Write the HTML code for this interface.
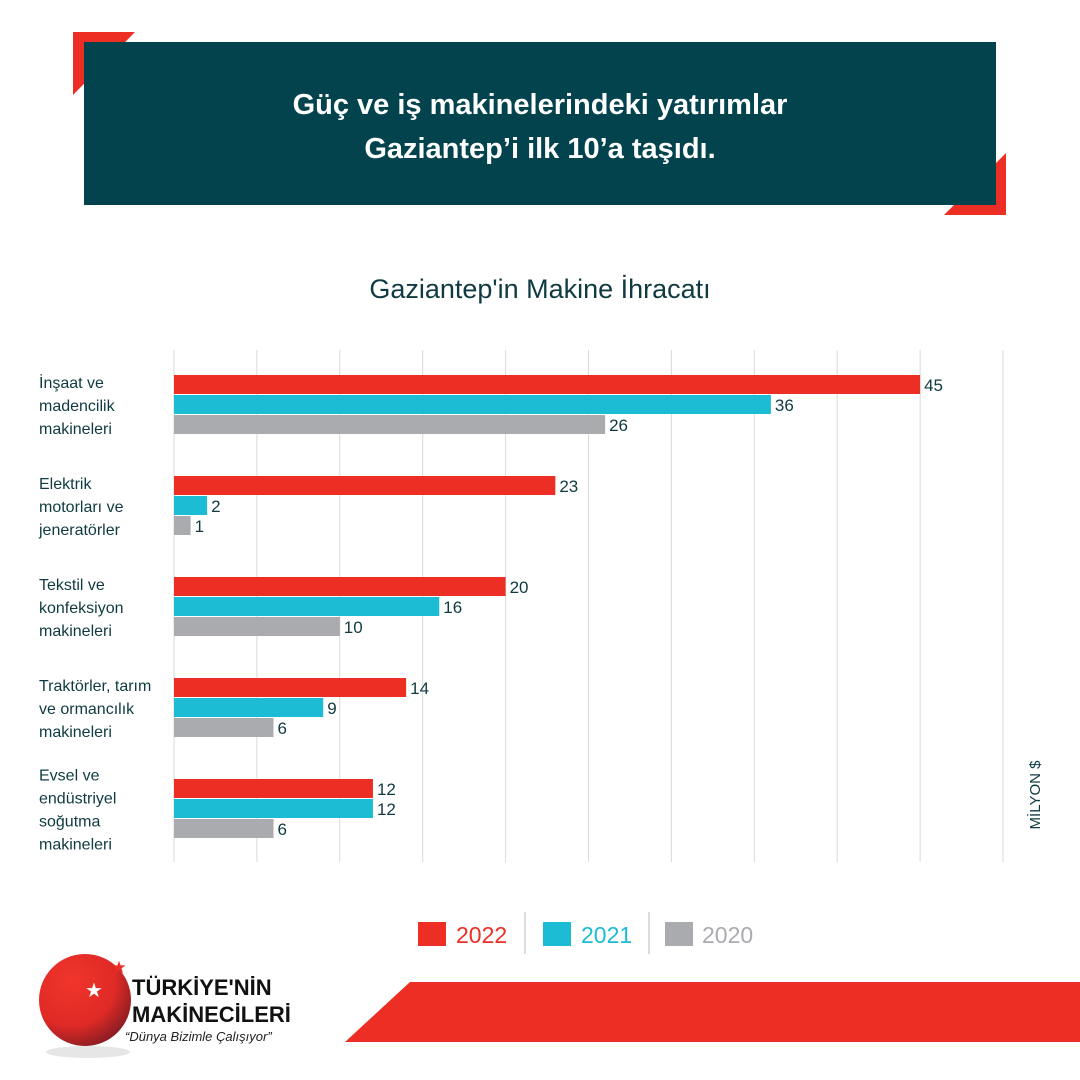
<!DOCTYPE html>
<html><head><meta charset="utf-8"><style>
body{margin:0;width:1080px;height:1080px;background:#fff;overflow:hidden;font-family:"Liberation Sans",sans-serif;}
svg{display:block}
</style></head><body>
<svg id="chart" width="1080" height="1080" viewBox="0 0 1080 1080">
<polygon points="73,32 135,32 73,95" fill="#ec2e24"/>
<polygon points="1006,153 1006,215 944,215" fill="#ec2e24"/>
<rect x="84" y="42" width="912" height="163" fill="#02434e"/>
<text x="540" y="114" text-anchor="middle" fill="#fff" font-size="29" font-weight="bold">Güç ve iş makinelerindeki yatırımlar</text>
<text x="540" y="158" text-anchor="middle" fill="#fff" font-size="29" font-weight="bold">Gaziantep’i ilk 10’a taşıdı.</text>
<text x="540" y="298" text-anchor="middle" fill="#0f3a42" font-size="27">Gaziantep'in Makine İhracatı</text>
<g id="grid"></g><g id="bars"></g><g id="labels"></g>
<text transform="translate(1040,795) rotate(-90)" text-anchor="middle" fill="#0f3a42" font-size="15">MİLYON $</text>
<g>
<rect x="418" y="922" width="28" height="24" fill="#ec2e24"/>
<text x="456" y="943" fill="#ec2e24" font-size="23">2022</text>
<line x1="525" y1="912" x2="525" y2="954" stroke="#bbb"/>
<rect x="543" y="922" width="28" height="24" fill="#1bbcd4"/>
<text x="581" y="943" fill="#1bbcd4" font-size="23">2021</text>
<line x1="649" y1="912" x2="649" y2="954" stroke="#bbb"/>
<rect x="665" y="922" width="28" height="24" fill="#a9abae"/>
<text x="702" y="943" fill="#a9abae" font-size="23">2020</text>
</g>
<polygon points="345,1042 410,982 1080,982 1080,1042" fill="#ec2e24"/>
<g>
<defs><radialGradient id="rg" cx="0.35" cy="0.3" r="0.8"><stop offset="0" stop-color="#f0352b"/><stop offset="0.6" stop-color="#e02a26"/><stop offset="1" stop-color="#7a1a22"/></radialGradient></defs>
<ellipse cx="88" cy="1052" rx="42" ry="6" fill="#e6e6e6"/>
<circle cx="85" cy="1000" r="46" fill="url(#rg)"/>
<text x="94" y="997" text-anchor="middle" fill="#fff" font-size="20">★</text>
<text x="119" y="973" text-anchor="middle" fill="#ec2e24" font-size="17">★</text>
<text x="132" y="995" fill="#111" font-size="22" font-weight="bold">TÜRKİYE'NİN</text>
<text x="132" y="1022" fill="#111" font-size="22" font-weight="bold">MAKİNECİLERİ</text>
<text x="125" y="1041" fill="#222" font-size="13" font-style="italic">“Dünya Bizimle Çalışıyor”</text>
</g>
</svg>
<script>
const categories=[["İnşaat ve","madencilik","makineleri"],["Elektrik","motorları ve","jeneratörler"],["Tekstil ve","konfeksiyon","makineleri"],["Traktörler, tarım","ve ormancılık","makineleri"],["Evsel ve","endüstriyel","soğutma","makineleri"]];
const v2022=[45,23,20,14,12];
const v2021=[36,2,16,9,12];
const v2020=[26,1,10,6,6];
const ticks=[0,5,10,15,20,25,30,35,40,45,50];
const NS="http://www.w3.org/2000/svg";
const x=v=>174+v*16.58;
const groupY=i=>375+i*101;
function mk(t,a,p){const e=document.createElementNS(NS,t);for(const k in a)e.setAttribute(k,a[k]);p.appendChild(e);return e;}
const grid=document.getElementById('grid'),bars=document.getElementById('bars'),labels=document.getElementById('labels');
ticks.forEach(t=>{const l=mk('line',{x1:x(t),x2:x(t),y1:350,y2:862,stroke:'#d9d9d9','stroke-width':1},grid);

});
const series=[[v2022,'#ec2e24','2022'],[v2021,'#1bbcd4','2021'],[v2020,'#a9abae','2020']];
categories.forEach((c,i)=>{
 series.forEach((s,j)=>{
  const y=groupY(i)+j*20, v=s[0][i];
  const r=mk('rect',{x:174,y:y,width:x(v)-174,height:19,fill:s[1]},bars);
  
  
  const t=mk('text',{x:x(v)+4,y:y+16,fill:'#0f3a42','font-size':17},bars);
  t.textContent=v;
  
  
 });
 const n=c.length, top=groupY(i)+30-(n-1)*11.5+6;
 c.forEach((line,k)=>{
  const t=mk('text',{x:39,y:top+k*23,fill:'#0f3a42','font-size':16},labels);
  t.textContent=line;
  
  
 });
});
</script>
</body></html>
